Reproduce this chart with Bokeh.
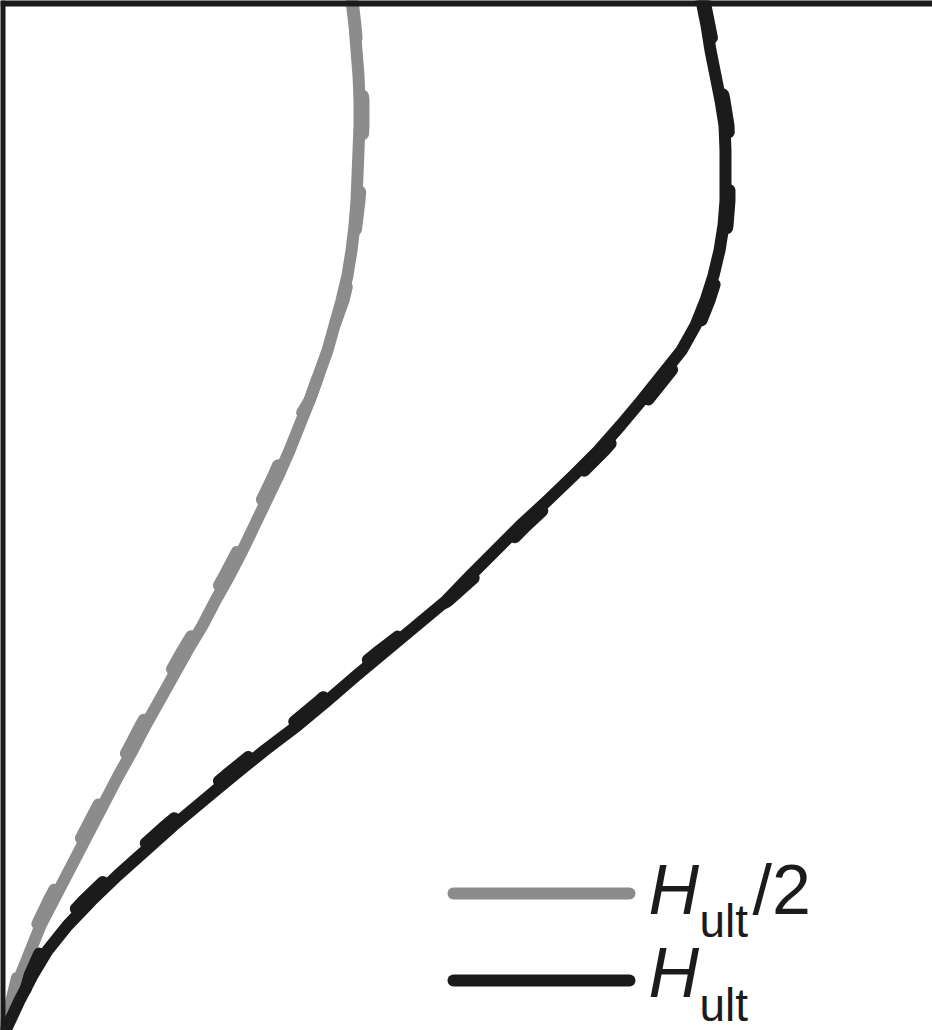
from bokeh.plotting import figure
from bokeh.models import Range1d, Span, Label, BoxAnnotation
from bokeh.embed import file_html
from bokeh.resources import INLINE

# height above base (vertical axis, top of view = 10.3)
height = [10.30, 10.05, 9.80, 9.55, 9.30, 9.05, 8.80, 8.55, 8.30, 8.05, 7.80, 7.55,
          7.30, 7.05, 6.80, 6.55, 6.30, 6.05, 5.80, 5.55, 5.30, 5.05, 4.80, 4.55,
          4.30, 4.05, 3.80, 3.55, 3.30, 3.05, 2.80, 2.55, 2.30, 2.05, 1.80, 1.55,
          1.30, 1.05, 0.80, 0.55, 0.30, 0.00]

# displacement, load H_ult (two models)
hult_model_a = [7.01, 7.06, 7.10, 7.15, 7.20, 7.24, 7.25, 7.25, 7.25, 7.23, 7.19, 7.13,
                7.05, 6.95, 6.81, 6.61, 6.41, 6.20, 5.98, 5.73, 5.47, 5.20, 4.95, 4.70,
                4.46, 4.16, 3.86, 3.56, 3.27, 2.97, 2.64, 2.33, 2.03, 1.73, 1.45, 1.17,
                0.91, 0.67, 0.47, 0.32, 0.19, 0.05]
hult_model_b = [7.04, 7.09, 7.14, 7.19, 7.24, 7.28, 7.29, 7.29, 7.29, 7.27, 7.23, 7.17,
                7.09, 6.99, 6.87, 6.67, 6.47, 6.26, 6.04, 5.79, 5.53, 5.26, 5.01, 4.76,
                4.48, 4.12, 3.79, 3.48, 3.19, 2.89, 2.56, 2.25, 1.95, 1.65, 1.37, 1.09,
                0.83, 0.60, 0.40, 0.29, 0.22, 0.11]

# displacement, load H_ult/2 (two models)
half_model_a = [3.51, 3.54, 3.56, 3.58, 3.59, 3.59, 3.58, 3.57, 3.56, 3.54, 3.51, 3.47,
                3.41, 3.34, 3.27, 3.18, 3.09, 2.99, 2.89, 2.78, 2.66, 2.54, 2.42, 2.29,
                2.15, 2.02, 1.87, 1.73, 1.59, 1.45, 1.32, 1.18, 1.05, 0.92, 0.79, 0.66,
                0.53, 0.40, 0.30, 0.20, 0.12, 0.03]
half_model_b = [3.52, 3.55, 3.57, 3.60, 3.63, 3.63, 3.62, 3.61, 3.59, 3.56, 3.53, 3.49,
                3.43, 3.34, 3.27, 3.18, 3.09, 2.94, 2.84, 2.73, 2.61, 2.49, 2.37, 2.24,
                2.10, 1.97, 1.82, 1.68, 1.54, 1.40, 1.27, 1.13, 1.00, 0.87, 0.74, 0.61,
                0.48, 0.36, 0.26, 0.17, 0.11, 0.05]

GREY = "#8c8c8c"
BLACK = "#1b1b1b"
FONT = "Liberation Sans"

p = figure(width=932, height=1030, output_backend="svg", toolbar_location=None,
           x_range=Range1d(0.0, 9.32), y_range=Range1d(0.0, 10.3),
           min_border=0, min_border_left=0, min_border_right=0,
           min_border_top=0, min_border_bottom=0)
p.axis.visible = False
p.grid.visible = False
p.outline_line_color = None
p.background_fill_color = "white"
p.border_fill_color = "white"

lw = 12
p.line(half_model_a, height, line_color=GREY, line_width=lw, line_cap="round", line_join="round")
p.line(half_model_b, height, line_color=GREY, line_width=lw, line_dash="38 58", line_cap="round")
p.line(hult_model_a, height, line_color=BLACK, line_width=lw, line_cap="round", line_join="round")
p.line(hult_model_b, height, line_color=BLACK, line_width=lw, line_dash="38 58", line_cap="round")

# frame borders (left and top)
p.add_layout(Span(location=0.0, dimension="height", line_color=BLACK, line_width=10))
p.add_layout(Span(location=10.3, dimension="width", line_color=BLACK, line_width=12))

# legend samples
p.add_layout(BoxAnnotation(left=447, right=635, bottom=131, top=143,
                           left_units="screen", right_units="screen",
                           bottom_units="screen", top_units="screen",
                           fill_color=GREY, fill_alpha=1.0, line_color=None,
                           border_radius=6))
p.add_layout(BoxAnnotation(left=447, right=635, bottom=44, top=56,
                           left_units="screen", right_units="screen",
                           bottom_units="screen", top_units="screen",
                           fill_color=BLACK, fill_alpha=1.0, line_color=None,
                           border_radius=6))

def lab(txt, x, y, size, style="normal"):
    p.add_layout(Label(x=x, y=y, x_units="screen", y_units="screen", text=txt,
                       text_font=FONT, text_font_size=f"{size}px",
                       text_font_style=style, text_color=BLACK,
                       text_baseline="alphabetic", text_align="left"))

lab("H", 648, 141, 70, "italic")
lab("ult", 699, 110, 46)
lab("/2", 752, 141, 70)
lab("H", 648, 58, 70, "italic")
lab("ult", 699, 26, 46)

open("out.html", "w").write(file_html(p, INLINE))
